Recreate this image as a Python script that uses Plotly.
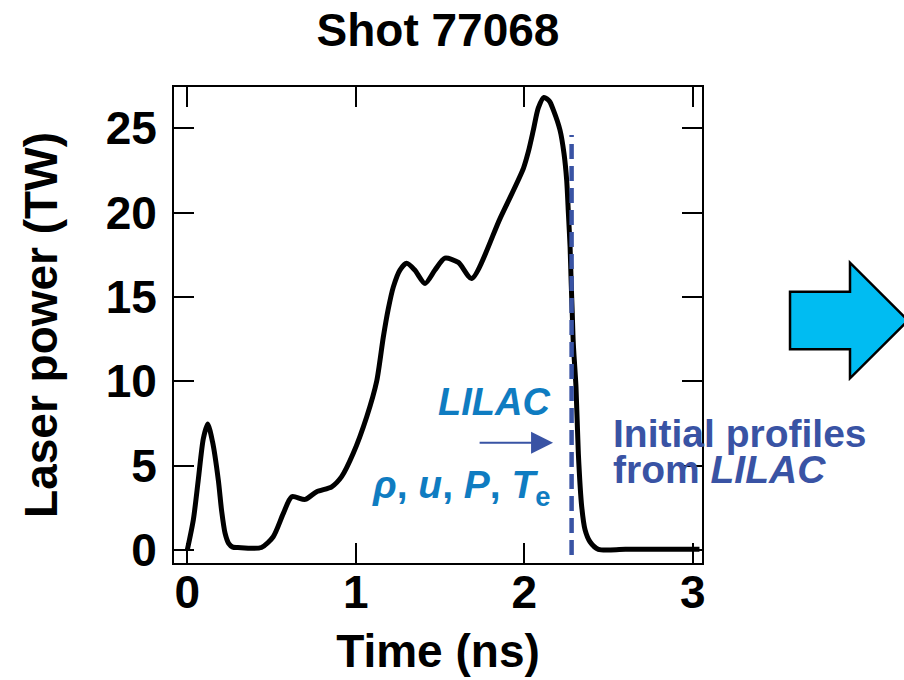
import plotly.graph_objects as go

# Laser pulse shape for shot 77068: time (ns) and power (TW)
time_ns = [0.00, 0.036, 0.065, 0.095, 0.121, 0.150, 0.184, 0.204, 0.224, 0.245, 0.27,
           0.30, 0.44, 0.51, 0.57, 0.62, 0.70, 0.768, 0.857, 0.916, 0.985, 1.065,
           1.124, 1.163, 1.193, 1.223, 1.262, 1.302, 1.35, 1.411, 1.47, 1.529, 1.609,
           1.688, 1.856, 1.995, 2.024, 2.054, 2.083, 2.117, 2.150, 2.173, 2.212, 2.236,
           2.252, 2.262, 2.272, 2.278, 2.285, 2.291, 2.307, 2.321, 2.341, 2.361, 2.39,
           2.44, 2.60, 3.04]
power_tw = [0.0, 1.8, 4.15, 6.6, 7.47, 6.4, 4.15, 2.3, 1.0, 0.4, 0.17,
            0.15, 0.15, 0.79, 2.17, 3.16, 3.0, 3.46, 3.75, 4.35, 5.73, 7.9,
            10.0, 12.6, 14.3, 15.6, 16.6, 17.0, 16.6, 15.8, 16.6, 17.3, 17.05,
            16.1, 19.65, 22.63, 23.6, 24.9, 26.2, 26.83, 26.6, 26.08, 24.9, 23.5,
            21.9, 19.96, 17.98, 16.0, 14.0, 12.25, 9.68, 5.73, 2.57, 1.19, 0.49,
            0.04, 0.04, 0.04]

# Time at which the LILAC profiles are handed over
handoff_time = [2.281, 2.281]
handoff_span = [-0.3, 24.6]

x_ticks = [0, 1, 2, 3]
y_ticks = [0, 5, 10, 15, 20, 25]

W, H = 904, 680
ML, MR, MT, MB = 174, 202, 87, 117
PW, PH = W - ML - MR, H - MT - MB

FONT = "Liberation Sans, Arial, sans-serif"
BLUE_TXT = "#0f7cc1"
BLUE_DARK = "#3953a4"


def px(x):
    return (x - ML) / PW


def py(y):
    return 1 - (y - MT) / PH


fig = go.Figure()

fig.add_trace(go.Scatter(
    x=time_ns, y=power_tw, mode="lines",
    line=dict(color="black", width=5, shape="spline", smoothing=0.7),
    hoverinfo="skip", showlegend=False,
))

fig.add_trace(go.Scatter(
    x=handoff_time, y=handoff_span, mode="lines",
    line=dict(color=BLUE_DARK, width=4.5, dash="15px,7px"),
    hoverinfo="skip", showlegend=False,
))

axis_common = dict(
    showline=True, linecolor="black", linewidth=2, mirror="ticks",
    ticks="inside", ticklen=20, tickwidth=2, tickcolor="black",
    showgrid=False, zeroline=False,
    tickfont=dict(family=FONT, size=46, color="black", weight="bold"),
)

fig.update_xaxes(
    range=[-0.079, 3.055], tickvals=x_ticks, ticktext=[str(v) for v in x_ticks],
    title=dict(text="<b>Time (ns)</b>", font=dict(family=FONT, size=46, color="black"),
               standoff=18),
    ticklabelstandoff=-12,
    **axis_common,
)
fig.update_yaxes(
    range=[-0.77, 27.45], tickvals=y_ticks, ticktext=[str(v) for v in y_ticks],
    title=dict(text="<b>Laser power (TW)</b>", font=dict(family=FONT, size=46, color="black"),
               standoff=34),
    ticklabelstandoff=6,
    **axis_common,
)

annotations = [
    dict(x=2.163, y=8.77, xref="x", yref="y", text="<b><i>LILAC</i></b>",
         xanchor="right", yanchor="middle", showarrow=False,
         font=dict(family=FONT, size=38, color=BLUE_TXT)),
    dict(x=2.171, y=3.7, xref="x", yref="y",
         text="<b><i>ρ</i>, <i>u</i>, <i>P</i>, <i>T</i><sub>e</sub></b>",
         xanchor="right", yanchor="middle", showarrow=False,
         font=dict(family=FONT, size=39, color=BLUE_TXT)),
    dict(x=2.171, y=6.36, xref="x", yref="y", ax=1.726, ay=6.36, axref="x", ayref="y",
         text="", showarrow=True, arrowhead=2, arrowsize=2.2, arrowwidth=2,
         arrowcolor=BLUE_DARK),
    dict(x=2.517, y=6.93, xref="x", yref="y", text="<b>Initial profiles</b>",
         xanchor="left", yanchor="middle", showarrow=False,
         font=dict(family=FONT, size=39, color=BLUE_DARK)),
    dict(x=2.517, y=4.8, xref="x", yref="y", text="<b>from <i>LILAC</i></b>",
         xanchor="left", yanchor="middle", showarrow=False,
         font=dict(family=FONT, size=39, color=BLUE_DARK)),
]

# Block arrow pointing to the right-hand panel
pts = [(790, 291.7), (850, 291.7), (850, 262.7), (908, 320.5),
       (850, 378.3), (850, 349.3), (790, 349.3)]
path = "M " + " L ".join(f"{px(a):.4f},{py(b):.4f}" for a, b in pts) + " Z"

fig.update_layout(
    width=W, height=H,
    margin=dict(l=ML, r=MR, t=MT, b=MB, autoexpand=False),
    paper_bgcolor="white", plot_bgcolor="white",
    title=dict(text="<b>Shot 77068</b>", x=0.5, xref="paper", xanchor="center",
               y=1 - 30 / H, yanchor="middle", yref="container",
               font=dict(family=FONT, size=46, color="black")),
    annotations=annotations,
    shapes=[dict(type="path", path=path, xref="paper", yref="paper",
                 fillcolor="#00bcf2", line=dict(color="black", width=2.5))],
)

fig.write_html("out.html")
